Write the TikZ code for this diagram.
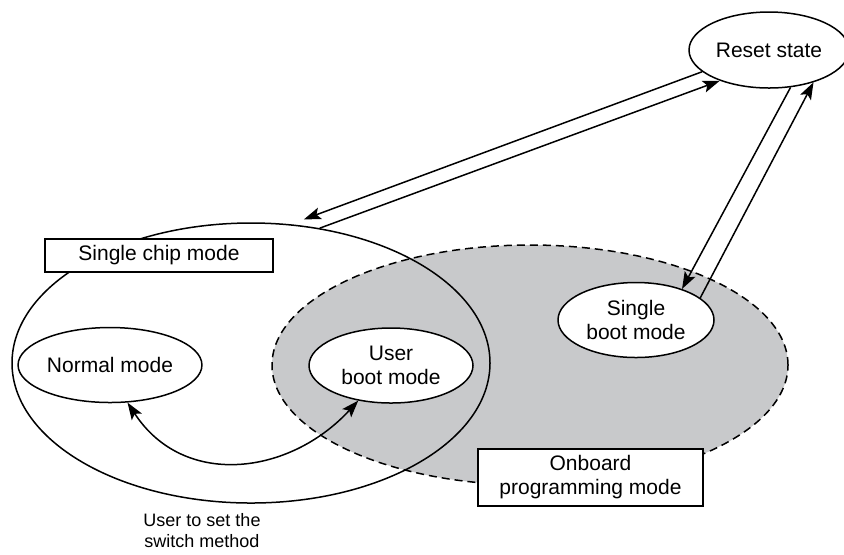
\documentclass[tikz,border=0pt]{standalone}
\usepackage{fontspec}
\setmainfont{Liberation Sans}
\usetikzlibrary{arrows.meta,shapes.geometric}
\definecolor{OnboardGray}{RGB}{200,201,203}
\tikzset{
  modeellipse/.style={ellipse, draw=black, fill=white, line width=0.75pt,
    align=center, inner sep=1pt, minimum height=37.5pt,
    font=\fontsize{10.5}{12}\selectfont},
  areaellipse/.style={ellipse, draw=black, line width=0.75pt, inner sep=0pt},
  modelabel/.style={rectangle, draw=black, fill=white, line width=0.9pt,
    align=center, inner sep=1pt, font=\fontsize{10.5}{12}\selectfont},
  modearrow/.style={-{Stealth[length=8.5pt,width=6pt,inset=1.8pt]}, line width=0.75pt},
  modearrows/.style={{Stealth[length=8.5pt,width=6pt,inset=1.8pt]}-{Stealth[length=8.5pt,width=6pt,inset=1.8pt]}, line width=0.75pt},
  smallnote/.style={font=\fontsize{9}{10.5}\selectfont, align=center, inner sep=1pt}
}

\begin{document}
\begin{tikzpicture}[x=0.5pt, y=-0.5pt]
  \useasboundingbox (0,0) rectangle (844,554);
  % areas
  \node[areaellipse, fill=OnboardGray, dash pattern=on 4pt off 2.5pt,
    minimum width=258pt, minimum height=120pt] (onboard) at (530,365) {};
  \node[areaellipse, minimum width=239pt, minimum height=140pt] (chip) at (251,363) {};
  % modes
  \node[modeellipse, minimum width=80pt, minimum height=38pt] (reset) at (769,50) {Reset state};
  \node[modeellipse, minimum width=78pt] (single) at (636,320) {Single\\boot mode};
  \node[modeellipse, minimum width=83pt] (normal) at (110,365) {Normal mode};
  \node[modeellipse, minimum width=82pt] (userboot) at (391,365.5) {User\\boot mode};
  % labels
  \node[modelabel, minimum width=114pt, minimum height=16.5pt] (chiplabel) at (159,255.5) {Single chip mode};
  \node[modelabel, minimum width=112.5pt, minimum height=28.5pt] (onboardlabel) at (590.5,477.5) {Onboard\\programming mode};
  \node[smallnote] (switchnote) at (202,531) {User to set the\\switch method};
  % transitions
  \draw[modearrow, shorten >=7pt] (reset.198.4) -- (chip.74.4);
  \draw[modearrow] (chip.63.1) -- (reset.212.6);
  \draw[modearrow] (reset.-60.4) -- (single.34);
  \draw[modearrow] (single.19) -- (reset.-36.9);
  \draw[modearrows] (normal.-65) .. controls (184,489) and (290,475) .. (userboot.-133);
\end{tikzpicture}
\end{document}
